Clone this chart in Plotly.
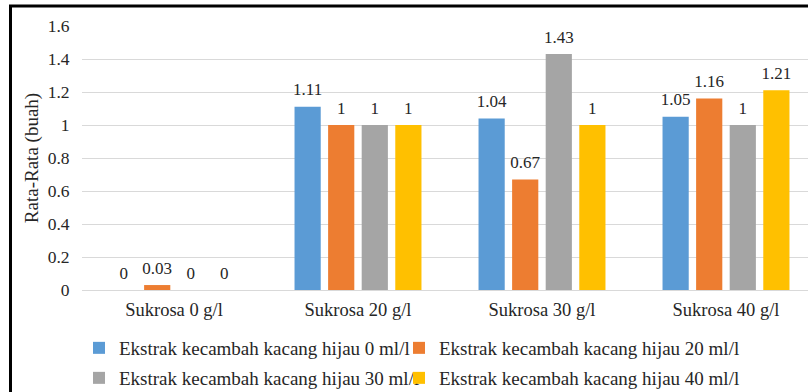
import plotly.graph_objects as go

categories = ["Sukrosa 0 g/l", "Sukrosa 20 g/l", "Sukrosa 30 g/l", "Sukrosa 40 g/l"]
series_names = [
    "Ekstrak kecambah kacang hijau 0 ml/l",
    "Ekstrak kecambah kacang hijau 20 ml/l",
    "Ekstrak kecambah kacang hijau 30 ml/l",
    "Ekstrak kecambah kacang hijau 40 ml/l",
]
ekstrak_0 = [0, 1.11, 1.04, 1.05]
ekstrak_20 = [0.03, 1, 0.67, 1.16]
ekstrak_30 = [0, 1, 1.43, 1]
ekstrak_40 = [0, 1, 1, 1.21]
y_ticks = [0, 0.2, 0.4, 0.6, 0.8, 1, 1.2, 1.4, 1.6]
y_title = "Rata-Rata (buah)"

colors = ["#5B9BD5", "#ED7D31", "#A5A5A5", "#FFC000"]
legend_refs = ["legend", "legend2", "legend3", "legend4"]
FONT = "Liberation Serif, Times New Roman, serif"
TXT = "#262626"
all_series = [ekstrak_0, ekstrak_20, ekstrak_30, ekstrak_40]

fig = go.Figure()
for name, vals, c, lg in zip(series_names, all_series, colors, legend_refs):
    fig.add_trace(go.Bar(
        x=categories, y=vals, name=name, legend=lg,
        marker=dict(color=c, line=dict(width=0)),
    ))
# value labels, aligned with the grouped bars
for name, vals in zip(series_names, all_series):
    fig.add_trace(go.Scatter(
        x=categories, y=vals, mode="markers+text", showlegend=False, hoverinfo="skip",
        marker=dict(size=10, color="rgba(0,0,0,0)"),
        text=[f"{v:g}" for v in vals], textposition="top center",
        textfont=dict(family=FONT, size=17, color=TXT), cliponaxis=False,
    ))

W, H = 808, 392
L, R, T, B = 82, 0, 26, 102
pw, ph = W - L - R, H - T - B


def py(page_y):
    return (H - B - page_y) / ph


def px(page_x):
    return (page_x - L) / pw


leg_common = dict(
    orientation="h", xanchor="left", yanchor="middle",
    font=dict(family=FONT, size=19, color=TXT),
    itemwidth=30, bgcolor="rgba(0,0,0,0)", borderwidth=0,
)

fig.update_layout(
    width=W, height=H,
    margin=dict(l=L, r=R, t=T, b=B, pad=0, autoexpand=False),
    paper_bgcolor="white", plot_bgcolor="white",
    font=dict(family=FONT, size=18, color=TXT),
    barmode="group", bargap=0.27, bargroupgap=0.22,
    scattermode="group", scattergap=0.27,
    showlegend=True,
    legend=dict(x=px(79), y=py(348), **leg_common),
    legend2=dict(x=px(399), y=py(348), **leg_common),
    legend3=dict(x=px(79), y=py(378), **leg_common),
    legend4=dict(x=px(399), y=py(378), **leg_common),
    xaxis=dict(
        range=[-0.5, -0.5 + pw / 184.0], showgrid=False, showline=False, zeroline=False,
        ticks="outside", ticklen=3, tickcolor="rgba(0,0,0,0)",
        tickfont=dict(family=FONT, size=18.5, color=TXT),
    ),
    yaxis=dict(
        range=[0, 1.6], tickvals=y_ticks, ticktext=[f"{v:g}" for v in y_ticks],
        showgrid=True, gridcolor="#D9D9D9", gridwidth=1,
        zeroline=True, zerolinecolor="#D9D9D9", zerolinewidth=1,
        showline=False, ticks="outside", ticklen=8, tickcolor="rgba(0,0,0,0)",
        tickfont=dict(family=FONT, size=17.5, color=TXT),
        title=dict(text=y_title, font=dict(family=FONT, size=19, color=TXT), standoff=3),
    ),
)

# outer frame
fig.add_shape(type="line", xref="paper", yref="paper", x0=px(10.5), x1=px(10.5), y0=py(6), y1=-1,
              line=dict(color="black", width=3))
fig.add_shape(type="line", xref="paper", yref="paper", x0=px(9), x1=1.2, y0=py(6), y1=py(6),
              line=dict(color="black", width=3))

fig.write_html("out.html", config={"displayModeBar": False},
               post_script="document.body.style.margin='0';document.body.style.overflow='hidden';")
